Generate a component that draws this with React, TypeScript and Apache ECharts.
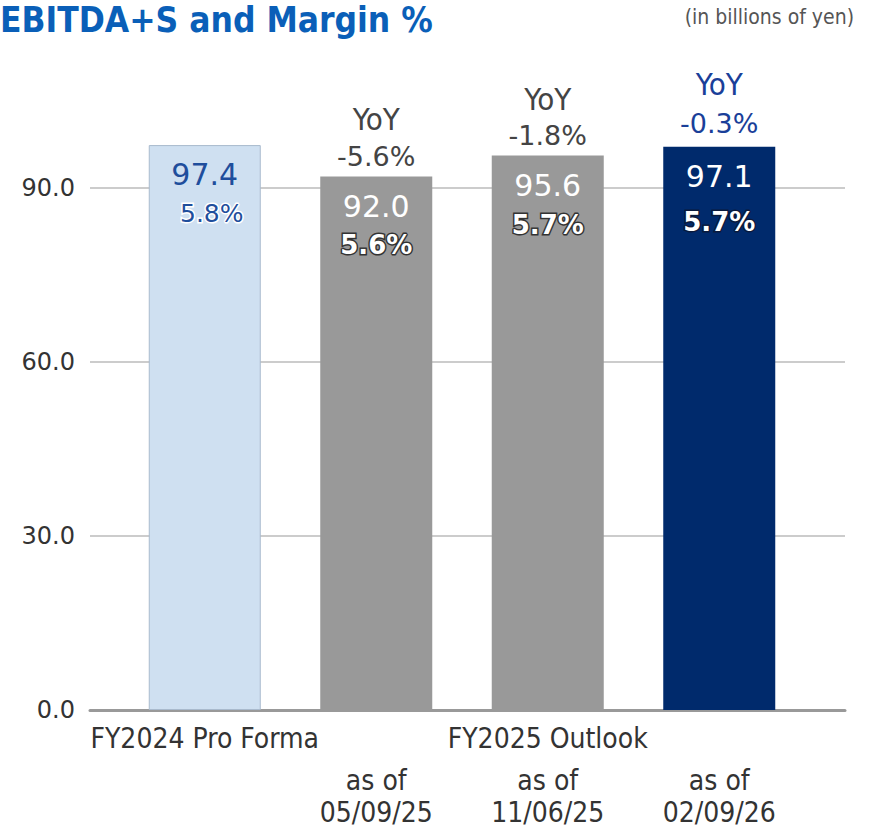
import React, { useEffect, useRef } from 'react';
import * as echarts from 'echarts';

const headLabels = ['FY2024 Pro Forma', '', 'FY2025 Outlook', ''];
const asOfLabels = ['', 'as of', 'as of', 'as of'];
const dateLabels = ['', '05/09/25', '11/06/25', '02/09/26'];
const ebitda = [97.4, 92.0, 95.6, 97.1];
const margins = ['5.8%', '5.6%', '5.7%', '5.7%'];
const yoy = ['', '-5.6%', '-1.8%', '-0.3%'];
const yMin = 0;
const yMax = 90;
const yInterval = 30;

const barColors = ['#cfe0f1', '#999999', '#999999', '#002a6c'];
const valueStyle = ['vBlue', 'vWhite', 'vWhite', 'vWhite'];
const marginStyle = ['mBlue', 'mGray', 'mGray', 'mNavy'];
const yoyStyle = ['', 'G', 'G', 'B'];

const NARROW = "'Liberation Sans Narrow', 'DejaVu Sans Condensed', sans-serif";
const SANS = "'DejaVu Sans', Verdana, sans-serif";

export default function App() {
  const ref = useRef<HTMLDivElement>(null);
  useEffect(() => {
    document.body.style.margin = '0';
    const chart = echarts.init(ref.current!, null, { renderer: 'svg' });
    const option: any = {
      animation: false,
      backgroundColor: '#ffffff',
      title: [
        {
          text: 'EBITDA+S and Margin %',
          left: 0,
          top: 2,
          padding: 0,
          textStyle: { fontFamily: NARROW, fontWeight: 'bold', fontSize: 35, color: '#0a5fb8' },
        },
        {
          text: '(in billions of yen)',
          right: 16,
          top: 6,
          padding: 0,
          textStyle: { fontFamily: NARROW, fontWeight: 'normal', fontSize: 21, color: '#555555' },
        },
      ],
      grid: [
        { left: 90, right: 25, top: 188, bottom: 120 },
        { left: 119, right: 65, top: 188, bottom: 120 },
      ],
      xAxis: [
        {
          type: 'value',
          gridIndex: 0,
          min: 0,
          max: 1,
          axisLine: { show: true, lineStyle: { color: '#999999', width: 3 } },
          axisTick: { show: false },
          axisLabel: { show: false },
          splitLine: { show: false },
        },
        {
          type: 'category',
          gridIndex: 1,
          data: headLabels.map((h, i) => h || dateLabels[i]),
          axisLine: { show: false },
          axisTick: { show: false },
          axisLabel: {
            interval: 0,
            margin: 2,
            formatter: (_v: string, i: number) => {
              const head = headLabels[i] ? `{a|${headLabels[i]}}` : '{a| }';
              if (!dateLabels[i]) return head;
              return `${head}\n{b|${asOfLabels[i]}}\n{b|${dateLabels[i]}}`;
            },
            rich: {
              a: { fontFamily: NARROW, fontSize: 28, color: '#333333', lineHeight: 52 },
              b: { fontFamily: NARROW, fontSize: 28, color: '#333333', lineHeight: 32 },
            },
          },
        },
      ],
      yAxis: [
        {
          type: 'value',
          gridIndex: 0,
          min: yMin,
          max: yMax,
          interval: yInterval,
          axisLine: { show: false },
          axisTick: { show: false },
          axisLabel: {
            formatter: (v: number) => v.toFixed(1),
            fontFamily: SANS,
            fontSize: 24,
            color: '#333333',
            margin: 15,
          },
          splitLine: { lineStyle: { color: '#bbbbbb', width: 1.5 } },
        },
        {
          type: 'value',
          gridIndex: 1,
          min: yMin,
          max: yMax,
          interval: yInterval,
          show: false,
        },
      ],
      series: [
        {
          type: 'bar',
          xAxisIndex: 1,
          yAxisIndex: 1,
          barWidth: 112,
          clip: false,
          data: ebitda.map((v, i) => ({
            value: v,
            itemStyle: {
              color: barColors[i],
              borderColor: i === 0 ? '#a9bacd' : barColors[i],
              borderWidth: i === 0 ? 1 : 0,
            },
          })),
          label: {
            show: true,
            position: 'insideTop',
            distance: 9,
            formatter: (p: any) =>
              `{${valueStyle[p.dataIndex]}|${ebitda[p.dataIndex].toFixed(1)}}\n{${marginStyle[p.dataIndex]}|${margins[p.dataIndex]}}`,
            rich: {
              vBlue: { fontFamily: SANS, fontSize: 30, color: '#1f4e9c', lineHeight: 40 },
              vWhite: { fontFamily: SANS, fontSize: 30, color: '#ffffff', lineHeight: 42 },
              mBlue: {
                fontFamily: SANS, fontSize: 25, color: '#1f4e9c', lineHeight: 38,
                textBorderColor: '#ffffff', textBorderWidth: 3, padding: [0, 0, 0, 14],
              },
              mGray: {
                fontFamily: SANS, fontSize: 26, fontWeight: 'bold', color: '#ffffff', lineHeight: 36,
                textBorderColor: '#333333', textBorderWidth: 3,
              },
              mNavy: {
                fontFamily: SANS, fontSize: 26, fontWeight: 'bold', color: '#ffffff', lineHeight: 48,
                textBorderColor: '#0b1a3c', textBorderWidth: 3,
              },
            },
          },
        },
        {
          type: 'bar',
          xAxisIndex: 1,
          yAxisIndex: 1,
          barWidth: 112,
          barGap: '-100%',
          clip: false,
          silent: true,
          itemStyle: { color: 'transparent' },
          data: ebitda.map((v) => v),
          label: {
            show: true,
            position: 'top',
            distance: 2,
            formatter: (p: any) => {
              const s = yoyStyle[p.dataIndex];
              if (!s) return '';
              return `{y${s}|YoY}\n{p${s}|${yoy[p.dataIndex]}}`;
            },
            rich: {
              yG: { fontFamily: NARROW, fontSize: 31, color: '#444444', lineHeight: 38 },
              pG: {
                fontFamily: SANS, fontSize: 27, color: '#444444', lineHeight: 36,
                textBorderColor: '#ffffff', textBorderWidth: 3,
              },
              yB: { fontFamily: NARROW, fontSize: 31, color: '#1a3f99', lineHeight: 38 },
              pB: {
                fontFamily: SANS, fontSize: 27, color: '#1a3f99', lineHeight: 42,
                textBorderColor: '#ffffff', textBorderWidth: 3,
              },
            },
          },
        },
      ],
    };
    chart.setOption(option);
    return () => chart.dispose();
  }, []);
  return <div ref={ref} style={{ width: 870, height: 830 }} />;
}
